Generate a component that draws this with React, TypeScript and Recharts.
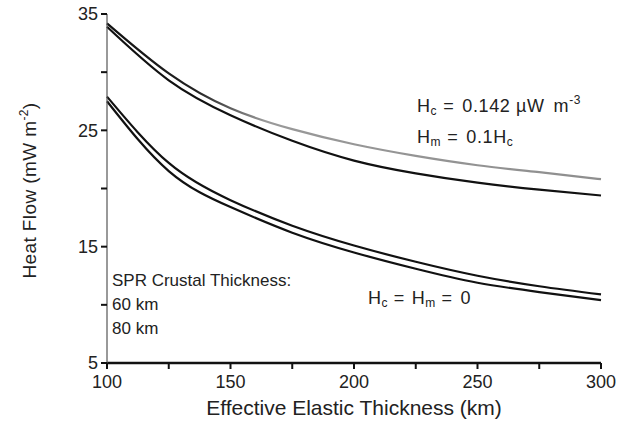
import { LineChart, Line, XAxis, YAxis, Label } from "recharts";

// effective elastic thickness (km)
const thickness = [100, 125, 150, 175, 200, 225, 250, 275, 300];

// Hc = 0.142 µW m-3, Hm = 0.1 Hc
const radiogenic60 = [34.2, 29.9, 26.9, 25.1, 23.8, 22.8, 22.0, 21.4, 20.8];
const radiogenic80 = [33.9, 29.3, 26.3, 24.1, 22.4, 21.3, 20.5, 19.9, 19.4];

// Hc = Hm = 0
const noHeat60 = [27.9, 22.2, 19.0, 16.8, 15.1, 13.7, 12.5, 11.6, 10.9];
const noHeat80 = [27.5, 21.5, 18.4, 16.2, 14.5, 13.1, 11.9, 11.1, 10.4];

const xTicks = [100, 125, 150, 175, 200, 225, 250, 275, 300];
const yTicks = [5, 10, 15, 20, 25, 30, 35];

const data = thickness.map((t, i) => ({
  te: t,
  r60: radiogenic60[i],
  r80: radiogenic80[i],
  z60: noHeat60[i],
  z80: noHeat80[i],
}));

const FONT = "'Liberation Sans', Arial, sans-serif";
const TXT = "#222";

function YTitle({ viewBox }: any) {
  const cx = 36;
  const cy = viewBox.y + viewBox.height / 2 + 2;
  return (
    <text
      x={cx}
      y={cy}
      transform={`rotate(-90 ${cx} ${cy})`}
      textAnchor="middle"
      fontFamily={FONT}
      fontSize={19}
      letterSpacing={0.4}
      fill={TXT}
    >
      Heat Flow (mW m
      <tspan dy={-8} fontSize={12}>-2</tspan>
      <tspan dy={8}>)</tspan>
    </text>
  );
}

function Sub({ children }: { children: string }) {
  return (
    <tspan fontSize={12} dy={3}>
      {children}
    </tspan>
  );
}

export default function App() {
  return (
    <div style={{ position: "absolute", left: 0, top: 0, width: 618, height: 429, background: "#fff" }}>
      <LineChart
        width={618}
        height={429}
        data={data}
        margin={{ top: 14, right: 17, bottom: 0, left: 0 }}
      >
        <defs>
          <linearGradient id="fade" x1="0" y1="0" x2="1" y2="0">
            <stop offset="0%" stopColor="#111" />
            <stop offset="18%" stopColor="#222" />
            <stop offset="32%" stopColor="#999" />
            <stop offset="100%" stopColor="#8e8e8e" />
          </linearGradient>
        </defs>
        <XAxis
          dataKey="te"
          type="number"
          domain={[100, 300]}
          ticks={xTicks}
          height={66}
          tickSize={6}
          tickMargin={6}
          tickFormatter={(v) => (v % 50 === 0 ? String(v) : "")}
          tick={{ fontSize: 18, fill: TXT, fontFamily: FONT }}
          axisLine={{ stroke: "#111", strokeWidth: 2.5 }}
          tickLine={{ stroke: "#111", strokeWidth: 2 }}
        >
          <Label
            value="Effective Elastic Thickness (km)"
            position="insideBottom"
            offset={14}
            style={{ fontSize: 21, fill: TXT, fontFamily: FONT }}
          />
        </XAxis>
        <YAxis
          type="number"
          domain={[5, 35]}
          ticks={yTicks}
          width={107}
          tickSize={6}
          tickMargin={3}
          tickFormatter={(v) => (v % 10 === 5 ? String(v) : "")}
          tick={{ fontSize: 18, fill: TXT, fontFamily: FONT }}
          axisLine={{ stroke: "#555", strokeWidth: 1.2 }}
          tickLine={{ stroke: "#111", strokeWidth: 2 }}
        >
          <Label content={YTitle} />
        </YAxis>
        <Line dataKey="r60" type="natural" stroke="url(#fade)" strokeWidth={2.2} dot={false} isAnimationActive={false} />
        <Line dataKey="r80" type="natural" stroke="#111" strokeWidth={2.2} dot={false} isAnimationActive={false} />
        <Line dataKey="z60" type="natural" stroke="#111" strokeWidth={2.2} dot={false} isAnimationActive={false} />
        <Line dataKey="z80" type="natural" stroke="#111" strokeWidth={2.2} dot={false} isAnimationActive={false} />
      </LineChart>
      <svg
        width={618}
        height={429}
        style={{ position: "absolute", left: 0, top: 0, pointerEvents: "none" }}
        fontFamily={FONT}
        fontSize={18}
        fill={TXT}
      >
        <text x={417} y={112} letterSpacing={0.6}>
          H<Sub>c</Sub>
          <tspan dy={-3} dx={6}>=</tspan>
          <tspan dx={8}>0.142 µW</tspan>
          <tspan dx={9}>m</tspan>
          <tspan dy={-8} fontSize={12}>-3</tspan>
        </text>
        <text x={417} y={143} letterSpacing={0.6}>
          H<Sub>m</Sub>
          <tspan dy={-3} dx={6}>=</tspan>
          <tspan dx={8}>0.1H</tspan>
          <Sub>c</Sub>
        </text>
        <text x={368} y={304} letterSpacing={0.4}>
          H<Sub>c</Sub>
          <tspan dy={-3} dx={6}>=</tspan>
          <tspan dx={7}>H</tspan>
          <Sub>m</Sub>
          <tspan dy={-3} dx={6}>=</tspan>
          <tspan dx={8}>0</tspan>
        </text>
        <g fontSize={17}>
          <text x={112} y={286}>SPR Crustal Thickness:</text>
          <text x={112} y={310}>60 km</text>
          <text x={112} y={334}>80 km</text>
        </g>
      </svg>
    </div>
  );
}
